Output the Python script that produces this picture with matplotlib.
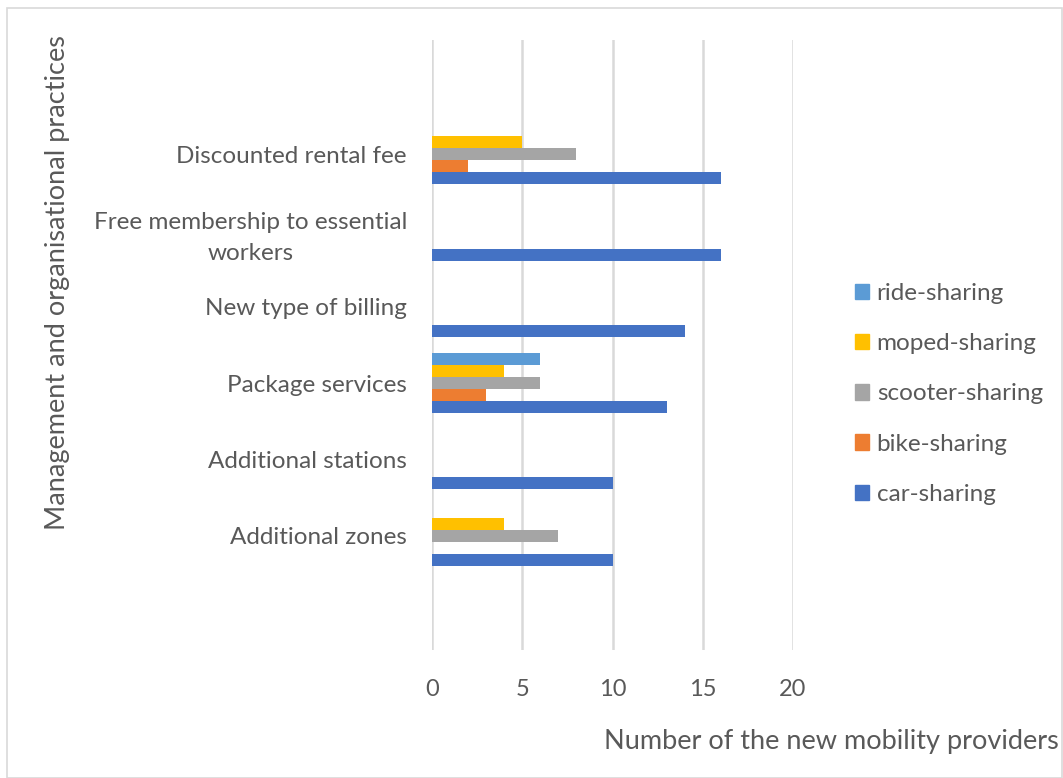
import matplotlib
matplotlib.use("Agg")
import matplotlib.pyplot as plt
from matplotlib.patches import Patch, Rectangle
import numpy as np

categories = ["Additional zones", "Additional stations", "Package services",
              "New type of billing", "Free membership to essential\nworkers",
              "Discounted rental fee"]
series = ["car-sharing", "bike-sharing", "scooter-sharing", "moped-sharing", "ride-sharing"]
car = [10, 10, 13, 14, 16, 16]
bike = [0, 0, 3, 0, 0, 2]
scooter = [7, 0, 6, 0, 0, 8]
moped = [4, 0, 4, 0, 0, 5]
ride = [0, 0, 6, 0, 0, 0]
values = [car, bike, scooter, moped, ride]
colors = ["#4472C4", "#ED7D31", "#A5A5A5", "#FFC000", "#5B9BD5"]
xticks = [0, 5, 10, 15, 20]

plt.rcParams['font.family'] = ['Lato', 'DejaVu Sans']
txt = "#595959"

fig = plt.figure(figsize=(10.63, 7.78), dpi=100)
fig.patches.append(Rectangle((7/1063, 0), 1 - 7/1063 - 0.0005, 1 - 8/778, transform=fig.transFigure,
                             fill=False, edgecolor="#d9d9d9", linewidth=1.2))
ax = fig.add_axes([432/1063, 1 - 650/778, (793-432)/1063, (650-40)/778])

y = np.arange(len(categories))
h = 0.157
for i, (vals, col) in enumerate(zip(values, colors)):
    ax.barh(y + (i - 2) * h, vals, height=h, color=col, zorder=3)

ax.set_xlim(0, 20)
ax.set_ylim(-1.5, 6.5)
ax.set_xticks(xticks)
ax.set_xticklabels([str(t) for t in xticks], fontsize=17, color=txt)
ax.set_yticks(y)
ax.set_yticklabels(categories, fontsize=17.5, color=txt, multialignment='center', linespacing=1.6)
ax.tick_params(axis='both', length=0)
ax.tick_params(axis='x', pad=21)
ax.tick_params(axis='y', pad=18)
for s in ax.spines.values():
    s.set_visible(False)
ax.grid(axis='x', color="#d9d9d9", linewidth=1.8, zorder=0)
ax.set_axisbelow(True)

fig.text(58/1063, 1 - 283/778, "Management and organisational practices", rotation=90,
         ha='center', va='center', fontsize=19.5, color=txt)
fig.text(831/1063, 1 - 742/778, "Number of the new mobility providers",
         ha='center', va='center', fontsize=19.5, color=txt)

handles = [Patch(color=c, label=s) for s, c in zip(series, colors)][::-1]
leg = fig.legend(handles=handles, loc='center left', bbox_to_anchor=(833/1063, 1 - 394/778),
                 frameon=False, fontsize=17.5, labelspacing=1.2, handlelength=0.6,
                 handleheight=0.6, handletextpad=0.3)
for t in leg.get_texts():
    t.set_color(txt)

fig.savefig("out.png", dpi=100)
